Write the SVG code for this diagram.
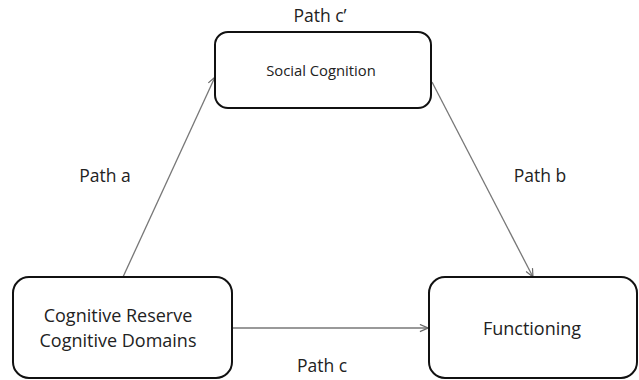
<svg xmlns="http://www.w3.org/2000/svg" width="639" height="380" viewBox="0 0 639 380">
<style>
.box{fill:#fff;stroke:#111;stroke-width:2}
.lbl{font-family:"Open Sans","Liberation Sans",sans-serif;fill:#222;text-anchor:middle}
.edge{stroke:#777;stroke-width:1.3;fill:none;marker-end:url(#arr)}
</style>
<defs>
<marker id="arr" viewBox="0 0 10 10" refX="10" refY="5" markerWidth="9" markerHeight="9" markerUnits="userSpaceOnUse" orient="auto">
<path d="M1,1 L10,5 L1,9" fill="none" stroke="#666" stroke-width="1.3"/>
</marker>
</defs>
<g id="connectors">
<line class="edge" x1="123" y1="277" x2="215" y2="77"/>
<line class="edge" x1="432" y1="82" x2="533" y2="277"/>
<line class="edge" x1="232" y1="328" x2="428" y2="328"/>
</g>
<g id="social">
<rect class="box" x="215" y="32" width="216" height="76" rx="13"/>
<text class="lbl" x="321" y="76" font-size="14.8">Social Cognition</text>
</g>
<g id="cognitive">
<rect class="box" x="13" y="277" width="219" height="101" rx="16"/>
<text class="lbl" x="118" y="322" font-size="18">Cognitive Reserve</text>
<text class="lbl" x="118" y="347" font-size="18">Cognitive Domains</text>
</g>
<g id="functioning">
<rect class="box" x="429" y="277" width="208" height="101" rx="16"/>
<text class="lbl" x="532" y="335" font-size="18">Functioning</text>
</g>
<g id="labels">
<text class="lbl" x="320" y="22" font-size="17.5">Path c’</text>
<text class="lbl" x="105" y="182" font-size="17.5">Path a</text>
<text class="lbl" x="540" y="182" font-size="17.5">Path b</text>
<text class="lbl" x="322" y="372" font-size="17.5">Path c</text>
</g>
</svg>
